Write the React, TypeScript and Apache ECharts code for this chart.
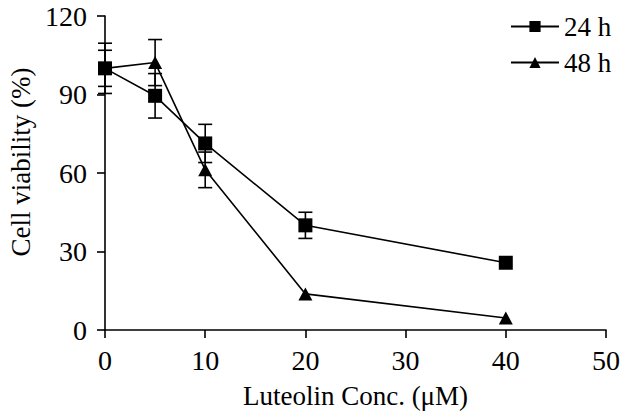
import React, { useEffect, useRef } from "react";
import * as echarts from "echarts";

const concentrations = [0, 5, 10, 20, 40];
const viability24h = [100, 89.5, 71.3, 40, 25.7];
const error24h = [6.9, 8.5, 7.3, 5, 0];
const viability48h = [100, 102.2, 61.2, 13.8, 4.6];
const error48h = [9.6, 8.8, 6.8, 0, 0];
const seriesNames = ["24 h", "48 h"];
const xTicks = { min: 0, max: 50, interval: 10 };
const yTicks = { min: 0, max: 120, interval: 30 };

const FONT = "'Liberation Serif', 'Times New Roman', serif";

export default function App() {
  const ref = useRef<HTMLDivElement>(null);
  useEffect(() => {
    document.body.style.margin = "0";
    if (!ref.current) return;
    const chart = echarts.init(ref.current, null, { renderer: "svg" });
    const toPairs = (ys: number[]) => concentrations.map((x, i) => [x, ys[i]]);
    const toErr = (ys: number[], es: number[]) =>
      concentrations.map((x, i) => [x, ys[i], es[i]]);
    const errRender = (params: any, api: any) => {
      const x = api.value(0);
      const y = api.value(1);
      const e = api.value(2);
      if (!e) return null;
      const top = api.coord([x, y + e]);
      const bot = api.coord([x, y - e]);
      const hw = 7;
      const st = { stroke: "#000", lineWidth: 1.6 };
      return {
        type: "group",
        children: [
          { type: "line", shape: { x1: top[0], y1: top[1], x2: bot[0], y2: bot[1] }, style: st },
          { type: "line", shape: { x1: top[0] - hw, y1: top[1], x2: top[0] + hw, y2: top[1] }, style: st },
          { type: "line", shape: { x1: bot[0] - hw, y1: bot[1], x2: bot[0] + hw, y2: bot[1] }, style: st },
        ],
      };
    };
    const txt = { fontFamily: FONT, fontSize: 28, color: "#000" };
    const axisStyle = { lineStyle: { color: "#000", width: 1.6 } };
    chart.setOption({
      animation: false,
      backgroundColor: "#fff",
      textStyle: { fontFamily: FONT, fontSize: 28 },
      grid: {
        left: 105,
        right: 27,
        top: 16,
        bottom: 81,
        containLabel: false,
        outerBoundsMode: "none",
      },
      legend: {
        data: seriesNames,
        orient: "vertical",
        left: 505,
        top: 8,
        itemWidth: 48,
        itemHeight: 14,
        itemGap: 9,
        textStyle: { ...txt, fontSize: 27 },
      },
      xAxis: {
        type: "value",
        min: xTicks.min,
        max: xTicks.max,
        interval: xTicks.interval,
        name: "Luteolin Conc. (μM)",
        nameLocation: "middle",
        nameGap: 52,
        nameTextStyle: { ...txt, fontSize: 27 },
        axisLine: axisStyle,
        axisTick: { show: true, length: 8, lineStyle: { color: "#000", width: 1.6 } },
        axisLabel: { ...txt, margin: 16 },
        splitLine: { show: false },
      },
      yAxis: {
        type: "value",
        min: yTicks.min,
        max: yTicks.max,
        interval: yTicks.interval,
        name: "Cell viability (%)",
        nameLocation: "middle",
        nameGap: 64,
        nameRotate: 90,
        nameTextStyle: { ...txt, fontSize: 27, padding: [0, 0, 0, 22] },
        axisLine: { show: true, ...axisStyle },
        axisTick: { show: true, length: 8, lineStyle: { color: "#000", width: 1.6 } },
        axisLabel: { ...txt, margin: 18, padding: [5, 0, 0, 0] },
        splitLine: { show: false },
      },
      series: [
        {
          name: "24 h err",
          type: "custom",
          renderItem: errRender,
          encode: { x: 0, y: 1 },
          data: toErr(viability24h, error24h),
          z: 1,
        },
        {
          name: "48 h err",
          type: "custom",
          renderItem: errRender,
          encode: { x: 0, y: 1 },
          data: toErr(viability48h, error48h),
          z: 1,
        },
        {
          name: seriesNames[0],
          type: "line",
          data: toPairs(viability24h),
          symbol: "rect",
          symbolSize: 14,
          itemStyle: { color: "#000" },
          lineStyle: { color: "#000", width: 1.6 },
          z: 3,
        },
        {
          name: seriesNames[1],
          type: "line",
          data: toPairs(viability48h),
          symbol: "triangle",
          symbolSize: [14, 13],
          itemStyle: { color: "#000" },
          lineStyle: { color: "#000", width: 1.6 },
          z: 3,
        },
      ],
    });
    return () => chart.dispose();
  }, []);
  return (
    <div
      ref={ref}
      style={{ width: 633, height: 411, position: "absolute", left: 0, top: 0 }}
    />
  );
}
